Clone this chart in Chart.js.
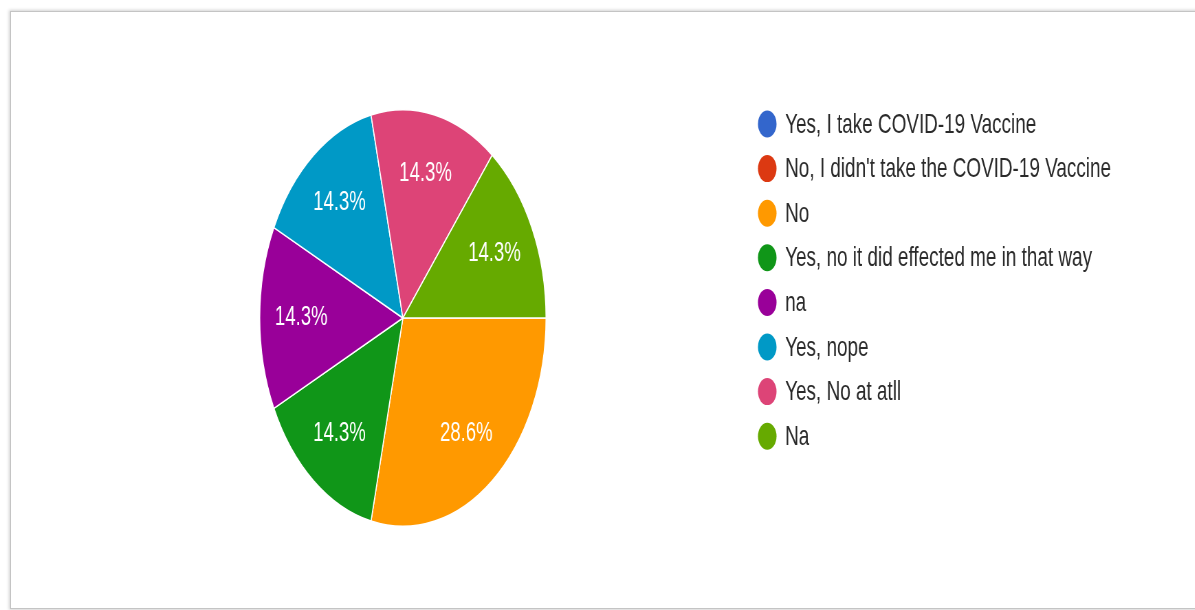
<!DOCTYPE html>
<html>
<head>
<meta charset="utf-8">
<script src="https://cdn.jsdelivr.net/npm/chart.js@4/dist/chart.umd.min.js"></script>
<style>
  html, body { margin: 0; padding: 0; background: #ffffff; overflow: hidden; }
  #page { position: relative; width: 1195px; height: 610px; overflow: hidden; background: #ffffff; }
  #frame { position: absolute; left: 10px; top: 11px; width: 1210px; height: 596px;
           border: 1px solid #c4c4c4; box-shadow: 0 0 3px 1px rgba(0,0,0,0.18); background: #fff; }
  #stretch { position: absolute; left: 0; top: 0; width: 1738px; height: 610px;
             transform: scaleX(0.6875); transform-origin: 0 0; }
</style>
</head>
<body>
<div id="page">
  <div id="frame"></div>
  <div id="stretch"><canvas id="c" width="1738" height="610"></canvas></div>
</div>
<script>
const categories = [
  "Yes, I take COVID-19 Vaccine",
  "No, I didn't take the COVID-19 Vaccine",
  "No",
  "Yes, no it did effected me in that way",
  "na",
  "Yes, nope",
  "Yes, No at atll",
  "Na"
];
const responses = [0, 0, 2, 1, 1, 1, 1, 1];
const colors = ["#3366cc", "#dc3912", "#ff9900", "#109618", "#990099", "#0099c6", "#dd4477", "#66aa00"];

const FONT = '"Liberation Sans", Arial, sans-serif';

const sliceLabels = {
  id: 'sliceLabels',
  afterDatasetsDraw(chart) {
    const ctx = chart.ctx;
    const meta = chart.getDatasetMeta(0);
    const data = chart.data.datasets[0].data;
    const total = data.reduce((a, b) => a + b, 0);
    ctx.save();
    ctx.fillStyle = '#ffffff';
    ctx.font = '27px ' + FONT;
    ctx.textAlign = 'center';
    ctx.textBaseline = 'middle';
    meta.data.forEach((arc, i) => {
      if (!data[i]) return;
      const p = arc.getProps(['startAngle', 'endAngle', 'outerRadius', 'x', 'y'], true);
      const mid = (p.startAngle + p.endAngle) / 2;
      const r = p.outerRadius * 0.71;
      const pct = (data[i] / total * 100).toFixed(1) + '%';
      ctx.fillText(pct, p.x + Math.cos(mid) * r, p.y + Math.sin(mid) * r);
    });
    ctx.restore();
  }
};

const sideLegend = {
  id: 'sideLegend',
  afterDraw(chart) {
    const ctx = chart.ctx;
    const labels = chart.data.labels;
    const bg = chart.data.datasets[0].backgroundColor;
    ctx.save();
    ctx.font = '27.5px ' + FONT;
    ctx.textBaseline = 'middle';
    ctx.textAlign = 'left';
    labels.forEach((lab, i) => {
      const y = 124 + i * 44.6;
      ctx.fillStyle = bg[i];
      ctx.beginPath();
      ctx.arc(1116, y, 13.5, 0, Math.PI * 2);
      ctx.fill();
      ctx.fillStyle = '#2a2a2a';
      ctx.fillText(lab, 1142, y + 1);
    });
    ctx.restore();
  }
};

new Chart(document.getElementById('c'), {
  type: 'pie',
  data: {
    labels: categories,
    datasets: [{
      data: responses,
      backgroundColor: colors,
      borderColor: '#ffffff',
      borderWidth: 1.5,
      hoverOffset: 0
    }]
  },
  options: {
    responsive: false,
    animation: false,
    rotation: 90,
    layout: { padding: { left: 377, right: 943, top: 108, bottom: 82 } },
    plugins: {
      legend: { display: false },
      tooltip: { enabled: false }
    }
  },
  plugins: [sliceLabels, sideLegend]
});
</script>
</body>
</html>
